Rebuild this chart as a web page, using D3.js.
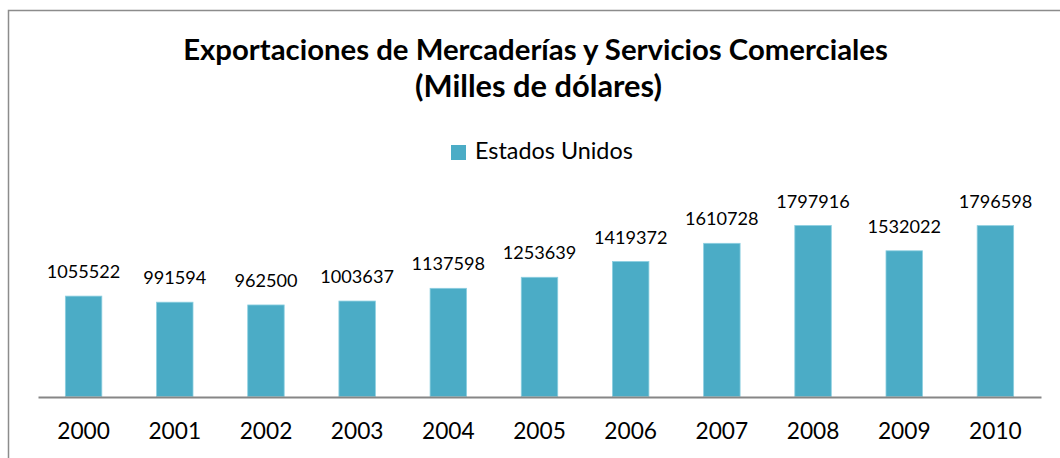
<!DOCTYPE html>
<html>
<head>
<meta charset="utf-8">
<script src="https://cdn.jsdelivr.net/npm/d3@7/dist/d3.min.js"></script>
<style>
  html, body { margin: 0; padding: 0; background: #fff; }
  svg { display: block; }
  text { font-family: Lato, "Open Sans", "Liberation Sans", sans-serif; fill: #000; }
</style>
</head>
<body>
<svg id="chart" width="1060" height="458"></svg>
<script>
const years = ["2000","2001","2002","2003","2004","2005","2006","2007","2008","2009","2010"];
const values = [1055522, 991594, 962500, 1003637, 1137598, 1253639, 1419372, 1610728, 1797916, 1532022, 1796598];
const seriesName = "Estados Unidos";
const titleLines = ["Exportaciones de Mercaderías y Servicios Comerciales", "(Milles de dólares)"];
const yDomain = [0, 2000000];

const svg = d3.select("#chart");
const color = "#4BACC6";

// fit font size of a text element to a target width
function fit(sel, target) {
  sel.attr("font-size", 100);
  const w = sel.node().getComputedTextLength();
  const fs = 100 * target / w;
  sel.attr("font-size", fs);
  return fs;
}

// frame
svg.append("rect")
  .attr("x", 8.5).attr("y", 10.5)
  .attr("width", 1100).attr("height", 500)
  .attr("fill", "none").attr("stroke", "#8c8c8c").attr("stroke-width", 1.5);

// title
const t1 = svg.append("text").attr("x", 535.5).attr("y", 60)
  .attr("text-anchor", "middle").attr("font-weight", "bold").text(titleLines[0]);
fit(t1, 705);
const t2 = svg.append("text").attr("x", 538.5).attr("y", 97)
  .attr("text-anchor", "middle").attr("font-weight", "bold").text(titleLines[1]);
fit(t2, 247);

// legend
svg.append("rect").attr("x", 451).attr("y", 145).attr("width", 15).attr("height", 15).attr("fill", color);
const lg = svg.append("text").attr("x", 475).attr("y", 159).text(seriesName);
fit(lg, 158);

// scales
const x = d3.scaleBand().domain(years).range([38, 1041]).paddingInner(0.6).paddingOuter(0.3);
const y = d3.scaleLinear().domain(yDomain).range([396.5, 396.5 - 2000000 / 10515]);

// bars
svg.append("g").selectAll("rect").data(values).join("rect")
  .attr("x", (d, i) => x(years[i]))
  .attr("y", d => y(d))
  .attr("width", x.bandwidth())
  .attr("height", d => y(0) - y(d))
  .attr("fill", color)
  .attr("stroke", "#8ccfe0").attr("stroke-width", 0.8);

// data labels
const probe = svg.append("text").text("1055522");
const labelFs = fit(probe, 73.6);
probe.remove();
svg.append("g").selectAll("text").data(values).join("text")
  .attr("x", (d, i) => x(years[i]) + x.bandwidth() / 2)
  .attr("y", d => y(d) - 18)
  .attr("text-anchor", "middle")
  .attr("font-size", labelFs)
  .text(d => d);

// x axis
const probe2 = svg.append("text").text("2000");
const yearFs = fit(probe2, 52.7);
probe2.remove();
const axis = svg.append("g").attr("transform", "translate(0,397)")
  .call(d3.axisBottom(x).tickSize(0).tickPadding(0));
axis.select(".domain").attr("stroke", "#868686").attr("stroke-width", 2);
axis.selectAll(".tick text")
  .attr("y", 0).attr("dy", 0)
  .attr("transform", "translate(0,42)")
  .attr("font-size", yearFs)
  .attr("font-family", 'Lato, "Open Sans", sans-serif')
  .attr("fill", "#000");
</script>
</body>
</html>
